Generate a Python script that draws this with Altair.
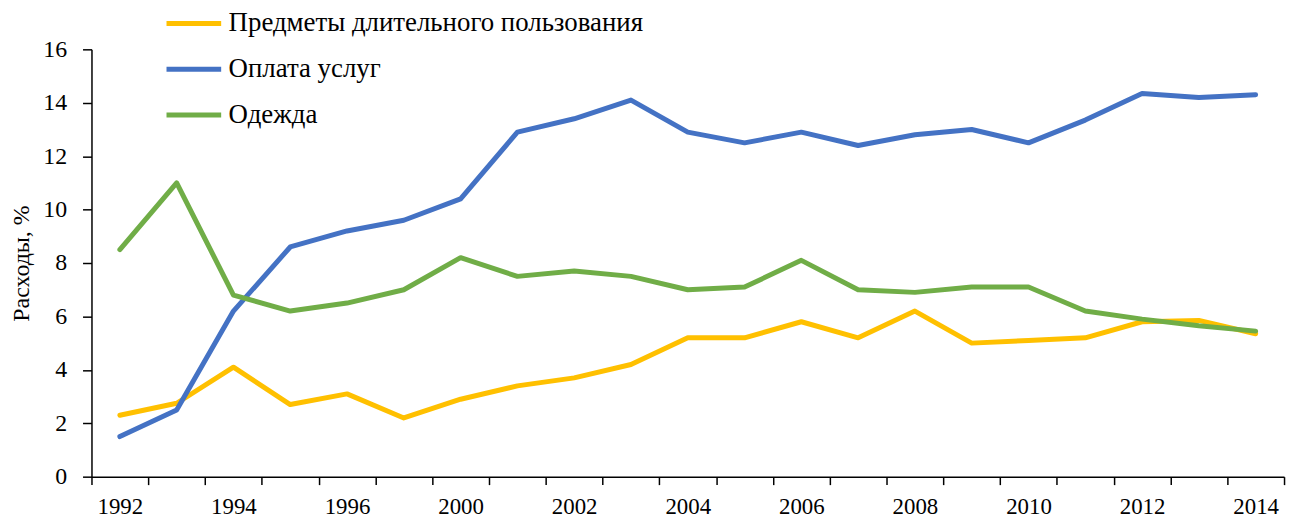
import altair as alt
import pandas as pd

years = ["1992", "1993", "1994", "1995", "1996", "1997", "2000", "2001", "2002", "2003",
         "2004", "2005", "2006", "2007", "2008", "2009", "2010", "2011", "2012", "2013", "2014"]
tick_labels = ["1992", "1994", "1996", "2000", "2002", "2004", "2006", "2008", "2010", "2012", "2014"]

durables = [2.3, 2.75, 4.1, 2.7, 3.1, 2.2, 2.9, 3.4, 3.7, 4.2,
            5.2, 5.2, 5.8, 5.2, 6.2, 5.0, 5.1, 5.2, 5.8, 5.85, 5.35]
services = [1.5, 2.5, 6.2, 8.6, 9.2, 9.6, 10.4, 12.9, 13.4, 14.1,
            12.9, 12.5, 12.9, 12.4, 12.8, 13.0, 12.5, 13.35, 14.35, 14.2, 14.3]
clothing = [8.5, 11.0, 6.8, 6.2, 6.5, 7.0, 8.2, 7.5, 7.7, 7.5,
            7.0, 7.1, 8.1, 7.0, 6.9, 7.1, 7.1, 6.2, 5.9, 5.65, 5.45]

series_names = ["Предметы длительного пользования", "Оплата услуг", "Одежда"]
series_colors = ["#FFC000", "#4472C4", "#70AD47"]

rows = []
for name, vals in zip(series_names, [durables, services, clothing]):
    for y, v in zip(years, vals):
        rows.append({"year": y, "value": v, "series": name})
df = pd.DataFrame(rows)

FONT = "Liberation Serif"
label_list = "[" + ",".join("'" + t + "'" for t in tick_labels) + "]"

chart = alt.Chart(df).mark_line(strokeWidth=5, strokeJoin="round", strokeCap="round").encode(
    x=alt.X("year:N", sort=years, bandPosition=0.5,
            scale=alt.Scale(type="band", domain=years, paddingInner=0, paddingOuter=0),
            axis=alt.Axis(title=None, tickBand="extent", labelAngle=0,
                          labelExpr="indexof(" + label_list + ", datum.label) >= 0 ? datum.label : ''",
                          domainColor="black", tickColor="black", tickSize=8, domainWidth=1.5, tickWidth=1.5,
                          labelFont=FONT, labelFontSize=23, labelColor="black", labelPadding=11,
                          labelOverlap=False, grid=False)),
    y=alt.Y("value:Q", scale=alt.Scale(domain=[0, 16], nice=False, zero=True),
            axis=alt.Axis(title="Расходы, %", values=list(range(0, 17, 2)), grid=False,
                          domainColor="black", tickColor="black", tickSize=9, domainWidth=1.5, tickWidth=1.5,
                          labelFont=FONT, labelFontSize=24, labelColor="black", labelPadding=16,
                          titleFont=FONT, titleFontSize=24, titleFontWeight="normal",
                          titleColor="black", titlePadding=9)),
    color=alt.Color("series:N", sort=series_names,
                    scale=alt.Scale(domain=series_names, range=series_colors),
                    legend=alt.Legend(title=None, orient="none", legendX=73, legendY=-56,
                                      symbolType="stroke", symbolSize=3025, symbolStrokeWidth=5,
                                      labelFont=FONT, labelFontSize=27, labelColor="black",
                                      rowPadding=3, labelOffset=5, labelLimit=700)),
).properties(
    width=1200, height=430,
    autosize=alt.AutoSizeParams(type="none"),
    padding={"left": 84, "top": 40, "right": 6, "bottom": 42},
).configure(background="white").configure_view(stroke=None)

chart.save("out.html", embed_options={"renderer": "svg", "actions": False})
